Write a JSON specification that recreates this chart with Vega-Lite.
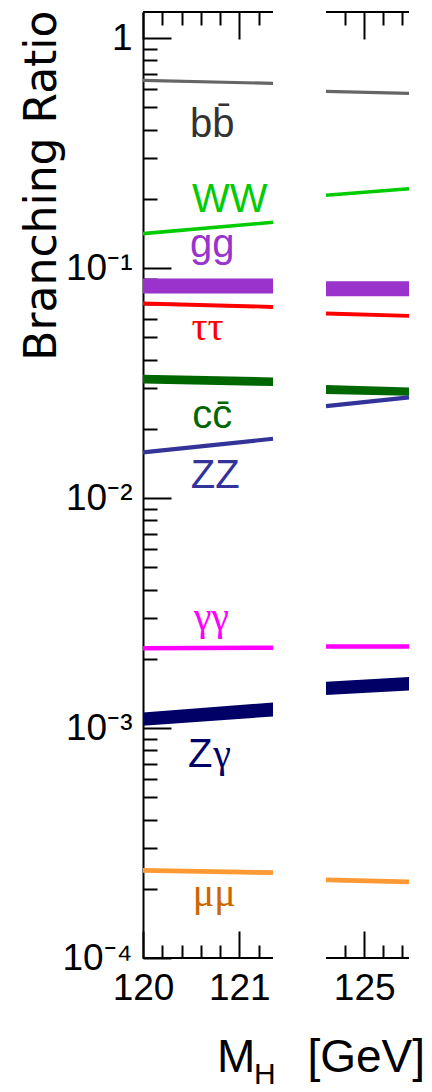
{
  "$schema": "https://vega.github.io/schema/vega-lite/v6.json",
  "autosize": {"type": "none"},
  "padding": {"left": 143, "top": 12, "right": 23, "bottom": 134},
  "width": 266,
  "height": 946,
  "background": "white",
  "config": {
    "view": {"stroke": null},
    "axis": {
      "grid": false,
      "domainColor": "black",
      "domainWidth": 2,
      "tickColor": "black",
      "tickWidth": 2,
      "labelColor": "black",
      "labelFont": "Liberation Sans",
      "labelFontSize": 37,
      "titleColor": "black"
    },
    "text": {"font": "Liberation Sans", "fontSize": 40}
  },
  "datasets": {
    "lines": [
      {"channel": "bb", "part": "low", "mass": 120, "br": 0.655},
      {"channel": "bb", "part": "low", "mass": 121.35, "br": 0.636},
      {"channel": "bb", "part": "high", "mass": 124.6, "br": 0.587},
      {"channel": "bb", "part": "high", "mass": 125.47, "br": 0.575},
      {"channel": "WW", "part": "low", "mass": 120, "br": 0.1413},
      {"channel": "WW", "part": "low", "mass": 121.35, "br": 0.1582},
      {"channel": "WW", "part": "high", "mass": 124.6, "br": 0.2073},
      {"channel": "WW", "part": "high", "mass": 125.47, "br": 0.2217},
      {"channel": "tautau", "part": "low", "mass": 120, "br": 0.0702},
      {"channel": "tautau", "part": "low", "mass": 121.35, "br": 0.0678},
      {"channel": "tautau", "part": "high", "mass": 124.6, "br": 0.0635},
      {"channel": "tautau", "part": "high", "mass": 125.47, "br": 0.062},
      {"channel": "ZZ", "part": "low", "mass": 120, "br": 0.01581},
      {"channel": "ZZ", "part": "low", "mass": 121.35, "br": 0.01811},
      {"channel": "ZZ", "part": "high", "mass": 124.6, "br": 0.02512},
      {"channel": "ZZ", "part": "high", "mass": 125.47, "br": 0.02741},
      {"channel": "gamgam", "part": "low", "mass": 120, "br": 0.002226},
      {"channel": "gamgam", "part": "low", "mass": 121.35, "br": 0.002235},
      {"channel": "gamgam", "part": "high", "mass": 124.6, "br": 0.002262},
      {"channel": "gamgam", "part": "high", "mass": 125.47, "br": 0.002262},
      {"channel": "mumu", "part": "low", "mass": 120, "br": 0.0002406},
      {"channel": "mumu", "part": "low", "mass": 121.35, "br": 0.0002351},
      {"channel": "mumu", "part": "high", "mass": 124.6, "br": 0.0002186},
      {"channel": "mumu", "part": "high", "mass": 125.47, "br": 0.0002143}
    ],
    "bands": [
      {"channel": "gg", "part": "low", "mass": 120, "lo": 0.0776, "hi": 0.0901},
      {"channel": "gg", "part": "low", "mass": 121.35, "lo": 0.0776, "hi": 0.0901},
      {"channel": "gg", "part": "high", "mass": 124.6, "lo": 0.0755, "hi": 0.0877},
      {"channel": "gg", "part": "high", "mass": 125.47, "lo": 0.0755, "hi": 0.0877},
      {"channel": "cc", "part": "low", "mass": 120, "lo": 0.03153, "hi": 0.03436},
      {"channel": "cc", "part": "low", "mass": 121.35, "lo": 0.0307, "hi": 0.03348},
      {"channel": "cc", "part": "high", "mass": 124.6, "lo": 0.02833, "hi": 0.031},
      {"channel": "cc", "part": "high", "mass": 125.47, "lo": 0.02785, "hi": 0.0303},
      {"channel": "Zgam", "part": "low", "mass": 120, "lo": 0.001023, "hi": 0.001169},
      {"channel": "Zgam", "part": "low", "mass": 121.35, "lo": 0.001123, "hi": 0.001291},
      {"channel": "Zgam", "part": "high", "mass": 124.6, "lo": 0.001391, "hi": 0.001589},
      {"channel": "Zgam", "part": "high", "mass": 125.47, "lo": 0.001456, "hi": 0.001666}
    ],
    "labels": [
      {"channel": "bb", "text": "bb̄", "mass": 120.72, "br": 0.37},
      {"channel": "WW", "text": "WW", "mass": 120.9, "br": 0.1754},
      {"channel": "gg", "text": "gg", "mass": 120.72, "br": 0.1118},
      {"channel": "cc", "text": "cc̄", "mass": 120.72, "br": 0.0201},
      {"channel": "ZZ", "text": "ZZ", "mass": 120.75, "br": 0.01106}
    ],
    "greek": [
      {"channel": "tautau", "text": "ττ", "mass": 120.67, "br": 0.0486},
      {"channel": "gamgam", "text": "γγ", "mass": 120.71, "br": 0.00267},
      {"channel": "mumu", "text": "μμ", "mass": 120.74, "br": 0.000168}
    ],
    "zgam": [
      {"channel": "Zgam", "z": "Z", "g": "γ", "mass": 120.72, "br": 0.000679}
    ],
    "panels": [
      {"start": 120, "end": 121.35},
      {"start": 124.6, "end": 125.47}
    ]
  },
  "layer": [
    {
      "data": {"name": "bands"},
      "mark": {"type": "area", "opacity": 1},
      "encoding": {
        "x": {
          "field": "mass", "type": "quantitative",
          "scale": {"type": "linear", "domain": [120, 121.35, 124.6, 125.47], "range": [0, 130, 183, 266], "nice": false, "zero": false},
          "axis": {
            "orient": "bottom", "title": null, "domain": false,
            "values": [120, 120.2, 120.4, 120.6, 120.8, 121, 121.2, 124.8, 125, 125.2, 125.4],
            "labelExpr": "abs(datum.value - round(datum.value)) < 0.001 ? format(datum.value, 'd') : ''",
            "tickSize": {"condition": {"test": "abs(datum.value - round(datum.value)) < 0.001", "value": -27}, "value": -13},
            "labelPadding": 39,
            "labelFlush": false,
            "labelAlign": "center",
            "labelOverlap": false
          }
        },
        "y": {
          "field": "lo", "type": "quantitative",
          "scale": {"type": "log", "domain": [0.0001, 1.3], "nice": false},
          "axis": {
            "orient": "left",
            "values": [0.0001, 0.0002, 0.0003, 0.0004, 0.0005, 0.0006, 0.0007, 0.0008, 0.0009, 0.001, 0.002, 0.003, 0.004, 0.005, 0.006, 0.007, 0.008, 0.009, 0.01, 0.02, 0.03, 0.04, 0.05, 0.06, 0.07, 0.08, 0.09, 0.1, 0.2, 0.3, 0.4, 0.5, 0.6, 0.7, 0.8, 0.9, 1],
            "labelExpr": "abs(log(datum.value)/LN10 - round(log(datum.value)/LN10)) > 0.001 ? '' : round(log(datum.value)/LN10) == 0 ? '1' : round(log(datum.value)/LN10) == -1 ? '10⁻¹' : round(log(datum.value)/LN10) == -2 ? '10⁻²' : round(log(datum.value)/LN10) == -3 ? '10⁻³' : '10⁻⁴'",
            "tickSize": {"condition": {"test": "abs(log(datum.value)/LN10 - round(log(datum.value)/LN10)) < 0.001", "value": -28}, "value": -14},
            "labelPadding": 39,
            "labelFlush": false,
            "labelOverlap": false,
            "labelBaseline": "middle",
            "title": "Branching Ratio",
            "titleFont": "DejaVu Sans",
            "titleFontSize": 44,
            "titleFontWeight": "normal",
            "titleAngle": 270,
            "titleAlign": "right",
            "titleBaseline": "alphabetic",
            "titleX": -88,
            "titleY": -2
          }
        },
        "y2": {"field": "hi"},
        "fill": {
          "field": "channel", "type": "nominal",
          "scale": {
            "domain": ["bb", "WW", "gg", "tautau", "cc", "ZZ", "gamgam", "Zgam", "mumu"],
            "range": ["#333333", "#00cc00", "#9933cc", "#ff0000", "#006600", "#333399", "#ff00ff", "#000066", "#cc6600"]
          },
          "legend": null
        },
        "detail": {"field": "part"}
      }
    },
    {
      "data": {"name": "lines"},
      "mark": {"type": "line"},
      "encoding": {
        "x": {"field": "mass", "type": "quantitative", "axis": null},
        "y": {"field": "br", "type": "quantitative", "axis": null},
        "stroke": {
          "field": "channel", "type": "nominal",
          "scale": {
            "domain": ["bb", "WW", "tautau", "ZZ", "gamgam", "mumu"],
            "range": ["#666666", "#00cc00", "#ff0000", "#333399", "#ff00ff", "#ff9933"]
          },
          "legend": null
        },
        "strokeWidth": {
          "field": "channel", "type": "nominal",
          "scale": {
            "domain": ["bb", "WW", "tautau", "ZZ", "gamgam", "mumu"],
            "range": [3.2, 4.8, 5, 5, 6, 5.5]
          },
          "legend": null
        },
        "detail": {"field": "part"}
      }
    },
    {
      "data": {"name": "panels"},
      "mark": {"type": "rule", "color": "black", "strokeWidth": 2},
      "encoding": {
        "x": {
          "field": "start", "type": "quantitative",
          "axis": {
            "orient": "top", "title": null, "domain": false, "labels": false,
            "values": [120, 120.2, 120.4, 120.6, 120.8, 121, 121.2, 124.8, 125, 125.2, 125.4],
            "tickSize": {"condition": {"test": "abs(datum.value - round(datum.value)) < 0.001", "value": -27}, "value": -13}
          }
        },
        "x2": {"field": "end"},
        "y": {"datum": 1.3, "type": "quantitative", "axis": null}
      }
    },
    {
      "data": {"name": "panels"},
      "mark": {"type": "rule", "color": "black", "strokeWidth": 2},
      "encoding": {
        "x": {"field": "start", "type": "quantitative", "axis": null},
        "x2": {"field": "end"},
        "y": {"datum": 0.0001, "type": "quantitative", "axis": null}
      }
    },
    {
      "data": {"name": "labels"},
      "mark": {"type": "text", "align": "center", "baseline": "alphabetic", "font": "Liberation Sans", "fontSize": 40},
      "encoding": {
        "x": {"field": "mass", "type": "quantitative", "axis": null},
        "y": {"field": "br", "type": "quantitative", "axis": null},
        "text": {"field": "text"},
        "fill": {"field": "channel", "type": "nominal", "legend": null}
      }
    },
    {
      "data": {"name": "greek"},
      "mark": {"type": "text", "align": "center", "baseline": "alphabetic", "font": "Liberation Serif", "fontSize": 40},
      "encoding": {
        "x": {"field": "mass", "type": "quantitative", "axis": null},
        "y": {"field": "br", "type": "quantitative", "axis": null},
        "text": {"field": "text"},
        "fill": {"field": "channel", "type": "nominal", "legend": null}
      }
    },
    {
      "data": {"name": "zgam"},
      "mark": {"type": "text", "align": "right", "baseline": "alphabetic", "font": "Liberation Sans", "fontSize": 40},
      "encoding": {
        "x": {"field": "mass", "type": "quantitative", "axis": null},
        "y": {"field": "br", "type": "quantitative", "axis": null},
        "text": {"field": "z"},
        "fill": {"field": "channel", "type": "nominal", "legend": null}
      }
    },
    {
      "data": {"name": "zgam"},
      "mark": {"type": "text", "align": "left", "baseline": "alphabetic", "font": "Liberation Serif", "fontSize": 40, "dx": 1},
      "encoding": {
        "x": {"field": "mass", "type": "quantitative", "axis": null},
        "y": {"field": "br", "type": "quantitative", "axis": null},
        "text": {"field": "g"},
        "fill": {"field": "channel", "type": "nominal", "legend": null}
      }
    },
    {
      "data": {"values": [{}]},
      "mark": {"type": "text", "text": "M", "align": "left", "baseline": "alphabetic", "font": "Liberation Sans", "fontSize": 46, "dx": -192, "dy": 114, "color": "black"},
      "encoding": {
        "x": {"datum": 125.47, "type": "quantitative", "axis": null},
        "y": {"datum": 0.0001, "type": "quantitative", "axis": null}
      }
    },
    {
      "data": {"values": [{}]},
      "mark": {"type": "text", "text": "H", "align": "left", "baseline": "alphabetic", "font": "Liberation Sans", "fontSize": 30, "dx": -155, "dy": 126, "color": "black"},
      "encoding": {
        "x": {"datum": 125.47, "type": "quantitative", "axis": null},
        "y": {"datum": 0.0001, "type": "quantitative", "axis": null}
      }
    },
    {
      "data": {"values": [{}]},
      "mark": {"type": "text", "text": "[GeV]", "align": "right", "baseline": "alphabetic", "font": "Liberation Sans", "fontSize": 46, "dx": 16, "dy": 114, "color": "black"},
      "encoding": {
        "x": {"datum": 125.47, "type": "quantitative", "axis": null},
        "y": {"datum": 0.0001, "type": "quantitative", "axis": null}
      }
    }
  ],
  "resolve": {"axis": {"x": "independent", "y": "independent"}}
}
